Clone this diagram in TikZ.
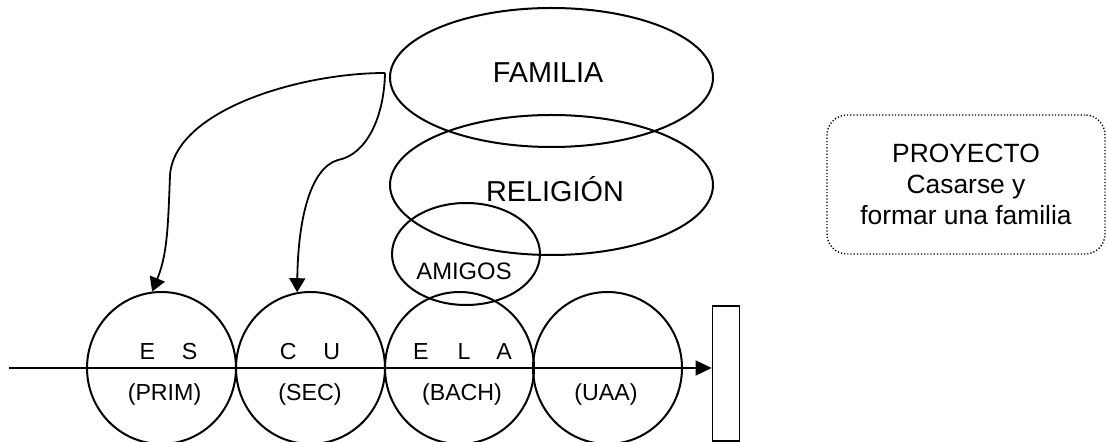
\documentclass[tikz,border=0pt]{standalone}
\usepackage{fontspec}
\setmainfont{Liberation Sans}
\usetikzlibrary{shapes.geometric,arrows.meta}
\begin{document}
\begin{tikzpicture}[x=0.5pt,y=-0.5pt,
  ln/.style={line width=1pt},
  oval/.style={ellipse,draw,line width=1pt,inner sep=0pt},
  lbl/.style={anchor=base,inner sep=0pt,font=\fontsize{11.6pt}{14pt}\selectfont},
  amig/.style={anchor=base,inner sep=0pt,font=\fontsize{11.9pt}{14pt}\selectfont},
  big/.style={anchor=base,inner sep=0pt,font=\fontsize{14.4pt}{17pt}\selectfont},
  arr/.style={line width=0.9pt,-{Triangle[length=7pt,width=8pt]}},
  projbox/.style={draw,rounded corners=10pt,line width=0.7pt,dash pattern=on 0.6pt off 1pt,
    align=center,font=\fontsize{13.2pt}{15.5pt}\selectfont,minimum width=139pt,minimum height=69.5pt},
]
\useasboundingbox (0,0) rectangle (1107,442);

% school circles
\node[oval,minimum width=74.5pt,minimum height=76pt] (prim) at (161.5,368) {};
\node[oval,minimum width=74.5pt,minimum height=76pt] (sec) at (310.5,368) {};
\node[oval,minimum width=74.5pt,minimum height=76pt] (bach) at (459.5,368) {};
\node[oval,minimum width=74.5pt,minimum height=76pt] (uaa) at (607.5,368) {};

% upper ellipses
\node[oval,minimum width=161.5pt,minimum height=69.5pt] (fam) at (551.5,77.5) {};
\node[oval,minimum width=161.5pt,minimum height=70pt] (rel) at (551.5,185) {};
\node[oval,minimum width=74pt,minimum height=51pt] (ami) at (466,254) {};

% texts
\node[big] (tfam) at (548,83) {FAMILIA};
\node[big] (trel) at (555,202) {RELIGIÓN};
\node[amig] (tami) at (464,280) {AMIGOS};

\node[lbl] (tES) at (168.5,360) {E\hspace{13.5pt}S};
\node[lbl] (tCU) at (310,360) {C\hspace{13.5pt}U};
\node[lbl] (tELA) at (462.5,360) {E\hspace{14.5pt}L\hspace{13pt}A};
\node[lbl] (tprim) at (164.5,401) {(PRIM)};
\node[lbl] (tsec) at (310,401) {(SEC)};
\node[lbl] (tbach) at (462,401) {(BACH)};
\node[lbl] (tuaa) at (606,401) {(UAA)};

% end bar and time line
\node[draw,line width=0.9pt,minimum width=13.5pt,minimum height=67.5pt,inner sep=0pt] (bar) at (726,373.5) {};
\coordinate (lstart) at (9,368);
\draw[ln,-{Triangle[length=8pt,width=7.5pt]}] (lstart) -- (lstart -| bar.west);

% curved arrows
\coordinate (src) at (385,73);
\draw[arr] (src) .. controls (300,73) and (175,110) .. (170,175)
  .. controls (168,230) and (167,255) .. (prim.97);
\draw[arr] (src) .. controls (384,120) and (365,155) .. (338,160)
  .. controls (310,168) and (298,220) .. (sec.100);

% project box
\node[projbox] (proj) at (966,184.5) {PROYECTO\\Casarse y\\formar una familia};
\end{tikzpicture}
\end{document}
